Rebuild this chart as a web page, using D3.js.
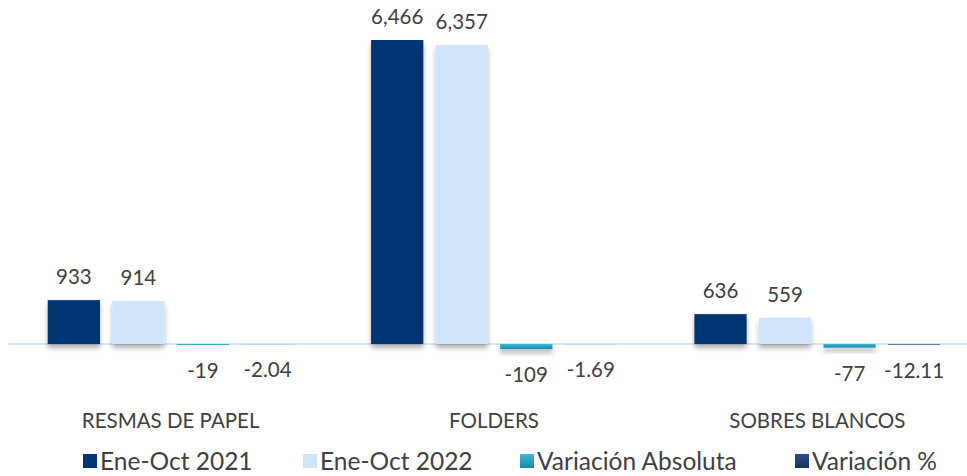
<!DOCTYPE html>
<html>
<head>
<meta charset="utf-8">
<script src="https://cdn.jsdelivr.net/npm/d3@7"></script>
<style>
  body { margin: 0; background: #fff; }
  text { font-family: Lato, "Open Sans", sans-serif; fill: #404040; }
</style>
</head>
<body>
<div id="chart"></div>
<script>
// chart data
const categories = ["RESMAS DE PAPEL", "FOLDERS", "SOBRES BLANCOS"];
const seriesNames = ["Ene-Oct 2021", "Ene-Oct 2022", "Variación Absoluta", "Variación %"];
const ene2021 = [933, 6466, 636];
const ene2022 = [914, 6357, 559];
const varAbs = [-19, -109, -77];
const varPct = [-2.04, -1.69, -12.11];
const valueLabels = [
  ["933", "914", "-19", "-2.04"],
  ["6,466", "6,357", "-109", "-1.69"],
  ["636", "559", "-77", "-12.11"]
];

const WIDTH = 967, HEIGHT = 476;
const BASE_Y = 344;

const svg = d3.select("#chart").append("svg")
  .attr("width", WIDTH).attr("height", HEIGHT);

const defs = svg.append("defs");
const shadow = defs.append("filter").attr("id", "shadow")
  .attr("x", "-20%").attr("y", "-50%").attr("width", "140%").attr("height", "300%");
shadow.append("feDropShadow")
  .attr("dx", 0).attr("dy", 4).attr("stdDeviation", 2.5)
  .attr("flood-color", "#000").attr("flood-opacity", 0.3);

function grad(id, c1, c2) {
  const g = defs.append("linearGradient").attr("id", id)
    .attr("x1", 0).attr("y1", 0).attr("x2", 0).attr("y2", 1);
  g.append("stop").attr("offset", "0%").attr("stop-color", c1);
  g.append("stop").attr("offset", "100%").attr("stop-color", c2);
}
grad("gAbs", "#3cb8da", "#1c86a5");
grad("gPct", "#2a4f86", "#16335f");

const colors = ["#003473", "#cfe4fb", "url(#gAbs)", "url(#gPct)"];

const x0 = d3.scaleBand().domain(categories).range([9, 979]).paddingInner(0).paddingOuter(0);
const x1 = d3.scaleBand().domain(seriesNames).range([0, x0.bandwidth()]).paddingInner(0.19).paddingOuter(0.6);
const y = d3.scaleLinear().domain([0, 6466]).range([BASE_Y, 40]);

const rows = categories.map((c, i) => ({
  cat: c,
  vals: [ene2021[i], ene2022[i], varAbs[i], varPct[i]].map((v, j) => ({
    key: seriesNames[j], v: v, color: colors[j], label: valueLabels[i][j]
  }))
}));

// axis line
svg.append("line")
  .attr("x1", 9).attr("x2", WIDTH).attr("y1", y(0)).attr("y2", y(0))
  .attr("stroke", "#d6e3f3").attr("stroke-width", 2);

const groups = svg.selectAll("g.cat").data(rows).join("g")
  .attr("class", "cat")
  .attr("transform", d => `translate(${x0(d.cat)},0)`);

groups.selectAll("rect").data(d => d.vals).join("rect")
  .attr("x", d => x1(d.key))
  .attr("width", x1.bandwidth())
  .attr("y", d => Math.min(y(d.v), y(0)))
  .attr("height", d => Math.abs(y(d.v) - y(0)))
  .attr("fill", d => d.color)
  .attr("filter", "url(#shadow)");

groups.selectAll("text.val").data(d => d.vals).join("text")
  .attr("class", "val")
  .attr("x", d => x1(d.key) + x1.bandwidth() / 2)
  .attr("y", d => d.v >= 0 ? y(d.v) - 16 : Math.max(y(d.v), y(0)) + 33)
  .attr("text-anchor", "middle")
  .attr("font-size", 20.5)
  .text(d => d.label);

// category labels
svg.selectAll("text.cat").data(categories).join("text")
  .attr("class", "cat")
  .attr("x", d => x0(d) + x0.bandwidth() / 2)
  .attr("y", 428)
  .attr("text-anchor", "middle")
  .attr("font-size", 20.5)
  .text(d => d);

// legend
const legendX = [83, 303, 520, 795];
const legend = svg.selectAll("g.leg").data(seriesNames).join("g")
  .attr("class", "leg")
  .attr("transform", (d, i) => `translate(${legendX[i]},454)`);
legend.append("rect").attr("width", 14).attr("height", 14)
  .attr("fill", (d, i) => colors[i]);
legend.append("text").attr("x", 17).attr("y", 15.5)
  .attr("font-size", 24.5)
  .text(d => d);
</script>
</body>
</html>
